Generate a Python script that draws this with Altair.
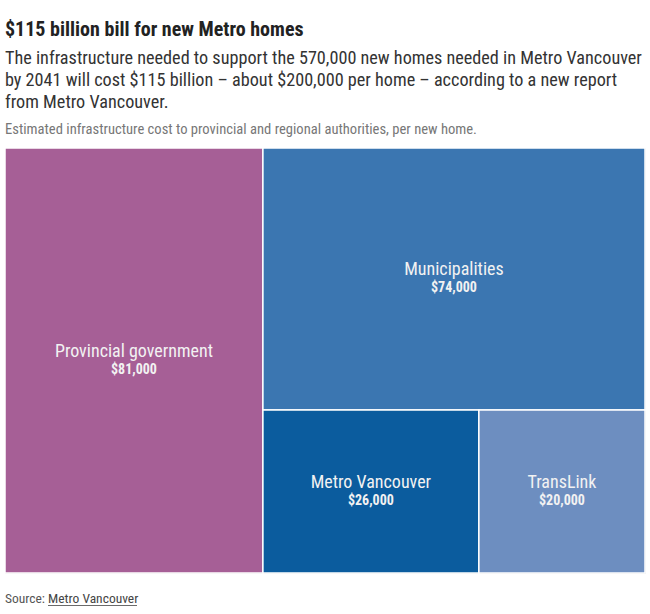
import altair as alt
import pandas as pd

# ---- data ----
names = ["Provincial government", "Municipalities", "Metro Vancouver", "TransLink"]
values = [81000, 74000, 26000, 20000]
labels = ["$81,000", "$74,000", "$26,000", "$20,000"]
colors = ["#a65f96", "#3b76b1", "#0b5c9e", "#6d8ec0"]

title_text = "$115 billion bill for new Metro homes"
subtitle_lines = [
    "The infrastructure needed to support the 570,000 new homes needed in Metro Vancouver",
    "by 2041 will cost $115 billion \u2013 about $200,000 per home \u2013 according to a new report",
    "from Metro Vancouver.",
]
note_text = "Estimated infrastructure cost to provincial and regional authorities, per new home."
source_prefix = "Source:"
source_link = "Metro Vancouver"

W, H = 640, 425
FONT = "Roboto Condensed, Liberation Sans Narrow, DejaVu Sans Condensed, Roboto"


# ---- squarified treemap layout ----
def worst(row, side):
    s = sum(row)
    return max(max(side * side * r / (s * s), (s * s) / (side * side * r)) for r in row)


def squarify(vals, x, y, w, h):
    total = sum(vals)
    areas = [v * w * h / total for v in vals]
    rects = []
    i = 0
    while i < len(areas):
        side = min(w, h)
        row = [areas[i]]
        j = i + 1
        while j < len(areas) and worst(row + [areas[j]], side) <= worst(row, side):
            row.append(areas[j])
            j += 1
        s = sum(row)
        if w >= h:  # column on the left
            cw = s / h
            yy = y
            for a in row:
                rh = a / cw
                rects.append((x, yy, x + cw, yy + rh))
                yy += rh
            x += cw
            w -= cw
        else:  # row along the top
            rh = s / w
            xx = x
            for a in row:
                rw = a / rh
                rects.append((xx, y, xx + rw, y + rh))
                xx += rw
            y += rh
            h -= rh
        i = j
    return rects


rects = squarify(values, 0, 0, W, H)
df = pd.DataFrame({
    "name": names,
    "value": values,
    "label": labels,
    "x0": [r[0] for r in rects],
    "y0": [r[1] for r in rects],
    "x1": [r[2] for r in rects],
    "y1": [r[3] for r in rects],
})
df["cx"] = (df.x0 + df.x1) / 2
df["cy"] = (df.y0 + df.y1) / 2

xs = alt.Scale(domain=[0, W], range=[0, W])
ys = alt.Scale(domain=[0, H], range=[0, H])

base = alt.Chart(df)

boxes = base.mark_rect(stroke="white", strokeWidth=1.5).encode(
    x=alt.X("x0:Q", scale=xs, axis=None),
    x2="x1:Q",
    y=alt.Y("y0:Q", scale=ys, axis=None),
    y2="y1:Q",
    color=alt.Color("name:N", scale=alt.Scale(domain=names, range=colors), legend=None),
    tooltip=["name:N", "label:N"],
)

name_text = base.mark_text(font=FONT, fontSize=18, color="#f2f2f2", dy=-9).encode(
    x=alt.X("cx:Q", scale=xs), y=alt.Y("cy:Q", scale=ys), text="name:N"
)
value_text = base.mark_text(font=FONT, fontSize=14, fontWeight="bold", color="#f2f2f2", dy=9).encode(
    x=alt.X("cx:Q", scale=xs), y=alt.Y("cy:Q", scale=ys), text="label:N"
)


def header(text, y, size, color, weight="normal", x=0):
    return alt.Chart(pd.DataFrame({"t": [text]})).mark_text(
        font=FONT, fontSize=size, color=color, fontWeight=weight,
        align="left", baseline="alphabetic"
    ).encode(x=alt.value(x), y=alt.value(y), text="t:N")


layers = [boxes, name_text, value_text,
          header(title_text, -112, 20, "#222222", "bold")]
for k, line in enumerate(subtitle_lines):
    layers.append(header(line, -84 + 22 * k, 18.2, "#333333"))
layers.append(header(note_text, -14, 14.6, "#777777"))
layers.append(header(source_prefix, H + 30, 13.5, "#555555"))
layers.append(header(source_link, H + 30, 13.5, "#444444", x=43))
underline = alt.Chart(pd.DataFrame({"t": [source_link]})).mark_rule(
    color="#444444", strokeWidth=0.8
).encode(x=alt.value(43), x2=alt.value(132), y=alt.value(H + 32.5))
layers.append(underline)

chart = alt.layer(*layers).properties(
    width=W, height=H,
    autosize=alt.AutoSizeParams(type="none"),
    padding={"left": 5, "top": 148, "right": 5, "bottom": 41},
).configure_view(stroke=None).configure(background="white")

chart.save("out.html", embed_options={"renderer": "svg", "actions": False})
